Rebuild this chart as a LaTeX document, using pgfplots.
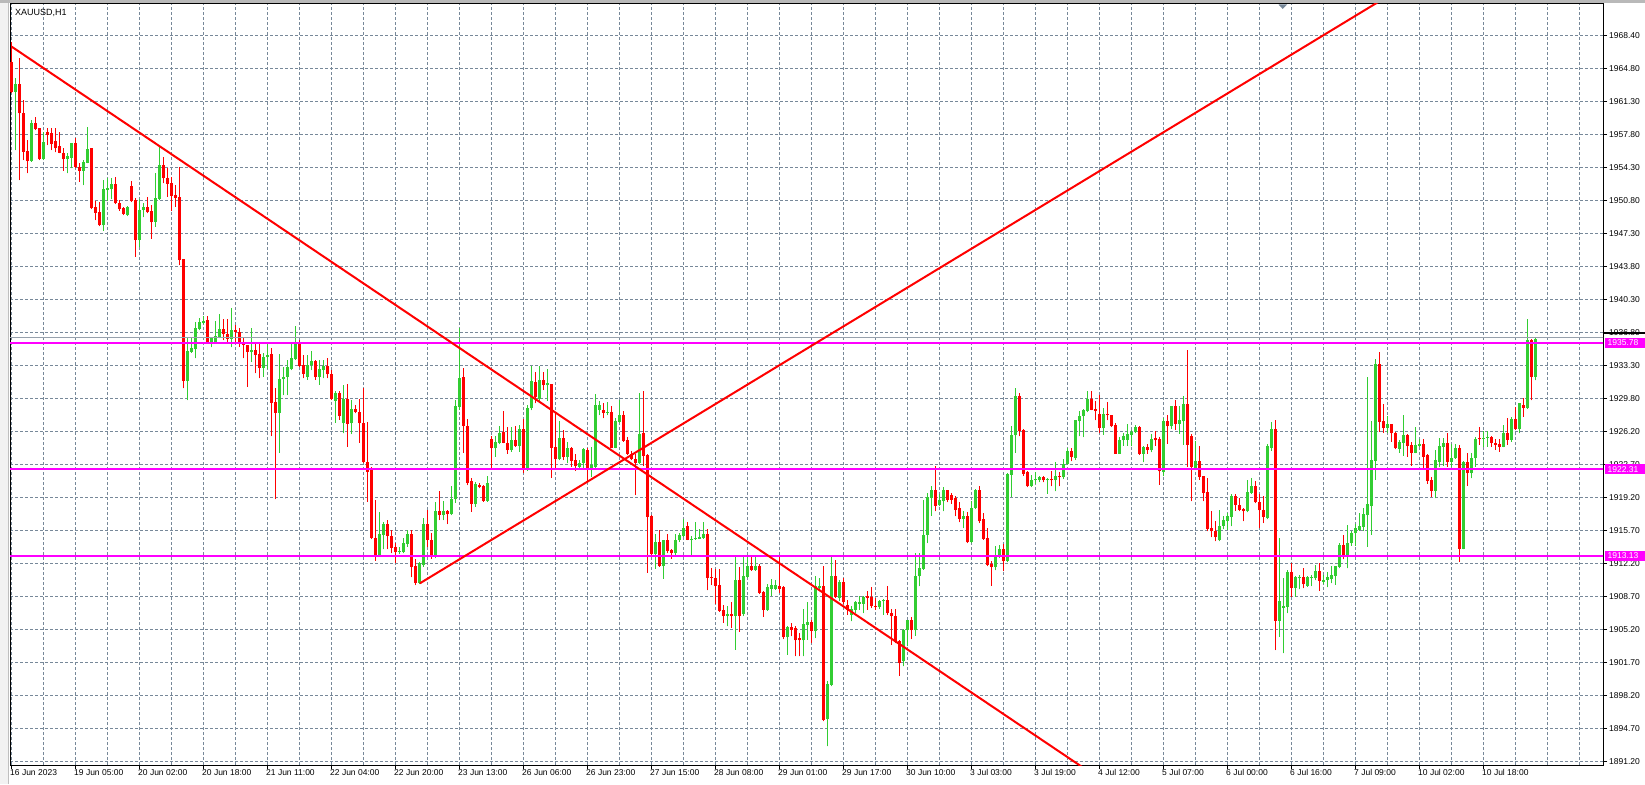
\documentclass[border=0pt]{standalone}
\usepackage{fontspec}
\setmainfont{Liberation Sans}
\usepackage{pgfplots}
\usepackage{pgfplotstable}
\pgfplotsset{compat=1.18}
\definecolor{cgreen}{RGB}{50,205,50}
\definecolor{cred}{RGB}{255,0,0}
\definecolor{cgrid}{RGB}{119,136,153}
\definecolor{cmag}{RGB}{255,0,255}
\definecolor{cbid}{RGB}{150,160,172}
\pgfplotstableread{
i o h l c
0 1965.67 1967.80 1962.30 1962.48
1 1962.48 1963.90 1956.27 1963.29
2 1963.29 1966.02 1953.08 1960.17
3 1960.17 1961.59 1955.21 1956.10
4 1956.17 1957.34 1953.79 1955.10
5 1955.10 1959.46 1955.03 1959.11
6 1959.11 1959.75 1958.40 1958.47
7 1958.58 1958.65 1955.21 1955.28
8 1955.28 1958.22 1955.21 1957.16
9 1958.15 1958.58 1956.80 1957.87
10 1958.05 1958.58 1956.27 1956.91
11 1957.23 1958.58 1956.02 1956.45
12 1956.70 1958.22 1955.92 1955.99
13 1955.92 1956.45 1954.07 1955.28
14 1955.28 1955.92 1953.79 1955.63
15 1955.46 1957.05 1954.32 1956.98
16 1956.98 1957.51 1954.32 1954.50
17 1954.50 1954.85 1952.90 1954.07
18 1954.07 1955.21 1952.55 1955.03
19 1954.92 1958.76 1954.85 1956.34
20 1956.49 1956.49 1949.96 1950.07
21 1950.17 1950.88 1948.83 1949.61
22 1949.68 1950.74 1948.19 1948.26
23 1948.26 1953.08 1947.69 1952.12
24 1952.02 1953.26 1950.85 1952.20
25 1952.12 1953.26 1951.02 1952.69
26 1952.66 1953.44 1950.53 1950.60
27 1950.60 1950.96 1949.82 1949.96
28 1950.10 1950.24 1949.36 1949.46
29 1949.36 1950.35 1949.25 1950.24
30 1952.44 1952.97 1950.74 1950.85
31 1950.96 1951.13 1944.92 1946.70
32 1946.70 1951.02 1945.99 1949.89
33 1949.89 1950.67 1949.11 1950.17
34 1950.21 1951.24 1949.54 1949.64
35 1949.78 1950.42 1946.84 1948.58
36 1948.65 1953.79 1948.12 1951.17
37 1951.06 1956.63 1950.96 1954.68
38 1954.68 1955.49 1952.73 1953.26
39 1953.26 1954.32 1951.31 1952.66
40 1952.73 1953.44 1949.82 1951.41
41 1951.49 1952.55 1950.24 1951.20
42 1951.27 1954.43 1944.04 1944.57
43 1944.64 1944.64 1930.92 1931.70
44 1931.70 1936.34 1929.68 1934.89
45 1934.82 1936.34 1934.71 1935.24
46 1935.10 1938.01 1934.11 1937.30
47 1937.23 1938.37 1937.12 1938.01
48 1937.83 1938.61 1937.76 1938.12
49 1938.19 1938.61 1935.71 1935.85
50 1935.85 1936.41 1935.28 1936.24
51 1935.81 1938.12 1935.71 1936.49
52 1936.34 1938.83 1936.24 1937.19
53 1937.19 1938.26 1936.06 1936.66
54 1936.66 1938.26 1935.88 1936.20
55 1936.20 1939.43 1935.28 1937.12
56 1937.12 1937.66 1935.81 1936.94
57 1936.94 1937.30 1935.35 1935.71
58 1935.71 1936.41 1934.11 1935.53
59 1935.53 1935.53 1931.10 1934.82
60 1934.75 1937.30 1933.75 1935.03
61 1935.00 1935.72 1932.53 1934.48
62 1934.58 1935.72 1932.00 1933.13
63 1933.13 1934.66 1932.17 1934.30
64 1934.23 1935.72 1933.00 1934.48
65 1934.58 1935.19 1925.86 1929.41
66 1929.48 1930.93 1919.12 1928.34
67 1928.34 1934.58 1924.09 1931.89
68 1931.89 1933.24 1930.22 1932.17
69 1932.17 1933.95 1930.22 1933.24
70 1932.95 1935.79 1932.88 1934.16
71 1934.02 1937.56 1933.95 1935.90
72 1935.90 1936.07 1933.24 1933.31
73 1933.38 1934.48 1932.00 1932.49
74 1932.17 1934.48 1931.82 1933.41
75 1933.41 1934.94 1932.88 1933.84
76 1933.84 1933.95 1931.82 1932.10
77 1932.10 1933.95 1931.29 1932.95
78 1932.88 1933.95 1932.00 1933.34
79 1933.27 1934.12 1932.00 1932.42
80 1932.46 1932.88 1929.69 1929.76
81 1929.62 1930.68 1927.28 1930.40
82 1930.40 1930.68 1927.57 1927.99
83 1927.21 1931.29 1926.15 1929.76
84 1929.76 1931.39 1924.73 1927.14
85 1927.21 1929.69 1926.07 1928.73
86 1928.73 1929.20 1928.27 1928.45
87 1928.45 1929.76 1925.15 1927.21
88 1927.21 1930.93 1923.03 1923.11
89 1923.11 1927.32 1918.88 1922.07
90 1922.24 1922.60 1914.87 1915.05
91 1915.05 1919.05 1912.60 1913.10
92 1913.10 1917.78 1913.02 1915.44
93 1915.33 1916.75 1913.81 1916.50
94 1916.50 1916.93 1913.81 1915.22
95 1915.22 1915.86 1913.38 1913.98
96 1914.09 1914.44 1912.32 1913.52
97 1913.52 1914.09 1913.31 1913.66
98 1913.52 1914.97 1913.38 1914.44
99 1914.37 1915.86 1914.09 1915.40
100 1915.40 1915.86 1910.83 1911.96
101 1912.03 1912.74 1910.01 1910.26
102 1910.26 1912.49 1910.12 1912.32
103 1912.14 1917.10 1911.96 1916.50
104 1916.50 1917.99 1914.09 1914.80
105 1914.80 1915.51 1912.81 1913.20
106 1913.20 1918.88 1912.85 1917.92
107 1917.85 1919.98 1916.93 1917.46
108 1917.46 1918.95 1916.93 1917.92
109 1917.92 1917.99 1916.50 1917.53
110 1917.53 1920.54 1917.46 1919.19
111 1919.12 1929.69 1918.77 1929.05
112 1928.98 1937.32 1928.63 1931.99
113 1932.10 1933.06 1924.09 1926.93
114 1926.93 1927.64 1920.65 1920.90
115 1921.08 1921.36 1917.81 1918.63
116 1918.63 1921.01 1918.34 1920.76
117 1920.65 1920.83 1920.30 1920.47
118 1920.54 1920.65 1918.88 1918.98
119 1918.95 1921.61 1918.88 1920.83
120 1925.51 1925.86 1922.42 1924.55
121 1924.55 1925.86 1923.66 1925.26
122 1925.15 1926.93 1925.01 1926.22
123 1926.29 1928.52 1925.08 1925.15
124 1925.14 1926.77 1924.00 1924.36
125 1924.36 1926.77 1924.18 1925.42
126 1925.49 1926.91 1924.71 1924.78
127 1924.78 1927.02 1924.18 1926.66
128 1926.66 1927.62 1921.88 1922.41
129 1922.41 1929.15 1922.16 1928.79
130 1928.79 1933.29 1928.61 1931.70
131 1931.59 1932.69 1929.32 1930.03
132 1929.75 1933.29 1929.50 1931.80
133 1931.80 1932.69 1930.74 1931.24
134 1931.24 1932.94 1929.61 1931.45
135 1931.34 1931.34 1921.45 1924.61
136 1924.71 1928.44 1922.30 1923.37
137 1923.37 1927.48 1923.30 1925.63
138 1925.63 1926.49 1923.30 1923.58
139 1923.58 1925.21 1922.94 1924.61
140 1924.61 1924.71 1922.59 1923.22
141 1923.30 1923.90 1922.16 1922.66
142 1922.59 1923.30 1922.41 1922.94
143 1922.94 1924.64 1922.41 1924.50
144 1924.36 1924.54 1920.99 1922.41
145 1922.51 1924.71 1921.52 1922.73
146 1922.59 1930.32 1922.51 1929.15
147 1928.61 1929.57 1928.08 1929.15
148 1928.68 1929.32 1927.73 1928.33
149 1928.33 1929.50 1928.08 1928.44
150 1928.44 1929.04 1924.54 1924.64
151 1924.64 1927.73 1924.54 1927.48
152 1927.37 1929.68 1927.27 1928.08
153 1928.08 1928.54 1925.24 1925.35
154 1925.49 1925.78 1923.83 1924.00
155 1924.00 1924.29 1923.30 1923.37
156 1923.44 1924.00 1919.57 1923.01
157 1923.01 1930.39 1922.87 1926.06
158 1926.13 1930.63 1922.66 1923.72
159 1923.83 1924.00 1911.31 1917.27
160 1917.34 1917.44 1913.08 1913.29
161 1913.29 1915.49 1911.73 1914.61
162 1914.61 1915.85 1911.95 1912.02
163 1912.02 1914.85 1910.67 1914.78
164 1914.78 1915.42 1913.37 1913.65
165 1913.72 1913.90 1912.83 1913.44
166 1913.37 1915.49 1913.19 1914.85
167 1914.78 1915.56 1914.61 1915.31
168 1915.21 1917.09 1915.14 1916.13
169 1916.27 1916.73 1914.78 1914.85
170 1914.85 1915.21 1913.19 1914.96
171 1914.92 1916.73 1914.85 1915.03
172 1914.96 1916.02 1914.92 1915.14
173 1915.07 1916.73 1914.96 1915.42
174 1915.42 1916.02 1909.46 1910.77
175 1910.88 1911.88 1910.00 1910.81
176 1910.81 1911.77 1908.05 1909.89
177 1910.00 1911.77 1907.16 1907.27
178 1907.34 1907.87 1905.99 1906.70
179 1906.70 1907.76 1905.63 1906.98
180 1906.98 1908.22 1905.49 1906.70
181 1906.70 1913.08 1903.15 1910.53
182 1910.53 1911.95 1905.03 1906.70
183 1906.91 1913.19 1906.70 1910.95
184 1910.88 1913.08 1910.81 1912.09
185 1912.09 1913.19 1911.52 1911.59
186 1911.59 1913.08 1911.52 1912.09
187 1912.09 1912.23 1909.04 1909.18
188 1909.29 1909.39 1906.63 1907.34
189 1907.41 1910.17 1907.27 1909.82
190 1909.63 1910.65 1908.88 1909.98
191 1909.63 1910.58 1909.52 1909.98
192 1909.95 1913.24 1909.16 1909.63
193 1909.77 1909.87 1904.27 1904.45
194 1904.45 1905.69 1902.61 1905.51
195 1905.51 1905.97 1904.55 1905.27
196 1905.44 1905.69 1902.43 1904.13
197 1904.38 1904.91 1902.43 1904.13
198 1904.13 1907.46 1902.43 1905.87
199 1905.80 1908.17 1904.20 1906.08
200 1906.08 1906.33 1903.85 1905.16
201 1905.09 1910.94 1904.38 1909.87
202 1909.70 1910.76 1909.34 1909.87
203 1909.95 1912.00 1895.51 1895.69
204 1895.76 1899.77 1892.85 1899.52
205 1899.41 1913.07 1899.24 1910.94
206 1910.94 1912.71 1908.63 1908.74
207 1908.63 1910.58 1908.28 1910.30
208 1910.30 1910.76 1908.03 1908.17
209 1907.92 1908.46 1906.86 1907.39
210 1906.86 1907.75 1906.15 1907.46
211 1907.39 1908.28 1907.04 1908.17
212 1908.03 1908.88 1907.39 1908.17
213 1908.03 1908.88 1907.04 1908.74
214 1908.81 1909.34 1907.39 1908.63
215 1908.74 1909.80 1907.57 1907.75
216 1907.82 1908.63 1907.39 1907.68
217 1907.68 1908.46 1907.46 1908.28
218 1908.28 1908.53 1906.86 1908.39
219 1908.39 1909.87 1906.86 1907.04
220 1907.04 1907.46 1903.67 1906.68
221 1906.75 1907.46 1903.85 1904.02
222 1904.09 1904.20 1900.37 1901.72
223 1901.90 1905.34 1901.36 1905.27
224 1905.19 1906.33 1903.49 1906.26
225 1906.26 1906.61 1904.27 1905.19
226 1905.19 1913.42 1904.63 1911.01
227 1910.94 1913.42 1909.87 1911.82
228 1911.72 1919.02 1911.65 1915.37
229 1915.37 1919.80 1914.48 1919.38
230 1919.27 1920.51 1917.39 1920.09
231 1920.09 1922.71 1917.85 1918.46
232 1918.56 1919.73 1918.39 1919.02
233 1918.92 1920.44 1917.85 1920.09
234 1920.09 1920.16 1918.81 1919.09
235 1919.63 1919.80 1918.67 1919.09
236 1919.27 1919.45 1917.32 1918.03
237 1918.21 1918.81 1916.68 1917.04
238 1917.04 1917.85 1916.08 1917.32
239 1917.32 1917.75 1914.48 1914.55
240 1914.55 1918.92 1914.48 1918.21
241 1918.21 1920.23 1918.10 1920.09
242 1920.09 1920.51 1916.61 1916.79
243 1917.04 1917.68 1914.84 1914.91
244 1915.02 1916.08 1912.00 1912.18
245 1912.29 1912.53 1909.95 1911.93
246 1911.93 1914.20 1911.58 1913.07
247 1913.00 1914.31 1912.89 1913.85
248 1913.85 1914.41 1911.47 1912.53
249 1912.53 1921.93 1912.43 1921.86
250 1921.75 1926.97 1919.38 1926.01
251 1925.94 1930.97 1924.06 1930.16
252 1930.16 1930.44 1925.83 1926.36
253 1926.53 1926.60 1921.64 1921.85
254 1922.03 1922.10 1920.43 1920.50
255 1920.50 1921.74 1920.43 1921.21
256 1921.14 1921.99 1920.79 1921.32
257 1921.21 1921.64 1920.93 1921.46
258 1921.46 1921.57 1920.93 1921.14
259 1921.14 1921.35 1919.72 1921.28
260 1921.21 1922.10 1920.50 1921.14
261 1921.14 1923.06 1919.97 1921.57
262 1921.57 1921.99 1920.50 1921.50
263 1921.50 1923.41 1921.28 1922.91
264 1922.91 1924.58 1922.81 1924.23
265 1924.23 1924.58 1923.16 1923.62
266 1923.52 1927.60 1923.34 1927.52
267 1927.42 1928.48 1925.82 1928.02
268 1927.95 1928.73 1925.75 1928.59
269 1928.48 1930.68 1928.38 1929.79
270 1929.79 1930.68 1928.59 1928.66
271 1928.77 1929.62 1927.52 1928.48
272 1928.23 1930.26 1926.18 1926.71
273 1926.67 1928.84 1926.00 1928.23
274 1928.23 1929.47 1927.52 1928.09
275 1928.13 1928.13 1926.82 1926.89
276 1927.06 1927.24 1923.98 1923.98
277 1923.98 1925.75 1923.98 1925.47
278 1925.40 1926.18 1924.83 1925.82
279 1925.47 1927.17 1924.83 1926.11
280 1926.00 1926.46 1924.76 1926.25
281 1926.25 1927.06 1926.18 1926.78
282 1926.78 1926.89 1923.87 1923.98
283 1923.98 1924.76 1923.06 1924.69
284 1924.69 1925.04 1923.98 1924.33
285 1924.33 1926.11 1924.12 1925.54
286 1925.61 1926.43 1924.83 1925.40
287 1925.54 1925.75 1920.68 1922.10
288 1921.99 1927.77 1921.57 1927.42
289 1927.42 1928.13 1925.04 1926.89
290 1926.89 1929.09 1926.60 1929.01
291 1929.01 1929.65 1926.53 1927.17
292 1927.17 1929.09 1926.11 1927.52
293 1927.42 1930.08 1924.94 1929.30
294 1929.30 1935.04 1922.56 1924.94
295 1925.89 1926.11 1918.91 1922.56
296 1922.35 1925.29 1922.28 1923.16
297 1923.16 1924.76 1921.21 1921.50
298 1921.57 1921.64 1918.91 1919.79
299 1919.87 1921.35 1915.72 1915.96
300 1916.11 1917.84 1915.11 1915.72
301 1915.72 1916.78 1914.65 1915.11
302 1914.76 1917.95 1914.65 1916.32
303 1916.32 1917.31 1915.96 1916.89
304 1916.78 1917.67 1915.89 1917.31
305 1917.24 1919.72 1916.25 1919.44
306 1919.51 1919.72 1917.91 1918.55
307 1918.55 1919.23 1917.84 1918.02
308 1918.13 1918.20 1916.78 1917.84
309 1917.84 1921.21 1917.74 1919.94
310 1919.79 1921.39 1919.72 1920.50
311 1920.50 1921.03 1918.73 1918.80
312 1918.87 1919.72 1916.04 1917.95
313 1918.02 1919.51 1916.60 1917.24
314 1917.11 1925.02 1917.00 1924.84
315 1924.63 1927.39 1924.27 1926.58
316 1926.58 1927.57 1903.10 1906.22
317 1906.22 1914.98 1904.52 1908.31
318 1907.61 1910.73 1902.75 1907.78
319 1907.71 1911.61 1907.00 1911.44
320 1911.44 1912.32 1908.78 1909.73
321 1909.73 1910.97 1908.78 1910.83
322 1910.73 1911.08 1909.56 1910.83
323 1910.90 1911.79 1909.66 1910.09
324 1909.91 1910.97 1909.84 1910.83
325 1910.73 1911.08 1909.91 1910.90
326 1910.73 1912.14 1910.55 1911.51
327 1911.51 1912.32 1909.41 1910.48
328 1910.37 1911.08 1910.12 1910.55
329 1910.55 1911.44 1909.77 1910.83
330 1910.62 1912.04 1910.19 1911.08
331 1910.97 1912.04 1910.02 1912.04
332 1911.97 1914.45 1911.79 1914.27
333 1914.27 1915.34 1912.75 1913.03
334 1913.03 1916.40 1911.79 1914.45
335 1914.45 1915.80 1914.17 1915.51
336 1915.51 1916.51 1914.17 1916.08
337 1915.87 1917.71 1915.80 1916.29
338 1916.22 1918.17 1915.80 1917.57
339 1917.46 1932.11 1914.09 1918.60
340 1918.42 1927.46 1915.34 1923.31
341 1923.24 1934.02 1921.19 1933.53
342 1933.53 1934.84 1926.33 1927.39
343 1927.50 1929.27 1926.22 1926.75
344 1926.75 1927.99 1926.22 1927.14
345 1927.14 1927.14 1925.27 1926.15
346 1926.22 1926.33 1924.45 1924.56
347 1924.52 1925.44 1924.10 1925.27
348 1925.16 1928.10 1923.74 1925.97
349 1925.97 1926.08 1923.67 1924.80
350 1924.91 1925.27 1922.71 1924.10
351 1924.10 1926.86 1924.02 1924.91
352 1924.84 1925.51 1924.73 1925.02
353 1925.02 1925.51 1922.43 1923.67
354 1923.85 1923.95 1920.76 1921.12
355 1921.19 1921.47 1919.41 1920.05
356 1920.05 1924.38 1919.24 1923.31
357 1923.14 1925.66 1922.53 1924.80
358 1924.73 1925.62 1922.71 1925.09
359 1925.09 1926.22 1922.61 1923.14
360 1923.14 1925.02 1922.53 1923.49
361 1923.49 1925.02 1923.42 1924.63
362 1924.63 1924.88 1912.50 1913.88
363 1913.88 1923.17 1913.81 1923.10
364 1923.10 1924.02 1920.55 1921.90
365 1921.90 1924.02 1921.36 1923.49
366 1923.49 1925.80 1922.61 1925.58
367 1925.58 1926.79 1924.91 1925.51
368 1925.55 1926.44 1924.73 1925.69
369 1925.69 1926.44 1924.73 1925.80
370 1925.80 1925.87 1924.73 1925.09
371 1925.09 1925.51 1924.38 1924.91
372 1925.02 1925.51 1924.20 1924.73
373 1924.73 1927.04 1924.66 1926.22
374 1926.22 1927.75 1924.91 1925.44
375 1925.44 1927.85 1925.27 1927.71
376 1927.71 1928.99 1926.51 1926.58
377 1926.58 1929.41 1926.15 1929.34
378 1929.21 1929.90 1927.93 1928.84
379 1928.84 1938.31 1928.75 1936.03
380 1936.03 1936.18 1929.64 1932.19
381 1932.19 1936.29 1931.77 1936.18
}\candles
\pgfplotsset{
  candle/.style n args={2}{only marks, no markers, mark size=0pt,
    mark options={draw=none, fill=none}, forget plot,
    error bars/.cd, y dir=plus, y explicit, error mark=none,
    error bar style={draw=#1, line width=#2, line cap=butt}},
}
\begin{document}
\begin{tikzpicture}
\path[use as bounding box] (0pt,0pt) rectangle (1645pt,784pt);
\fill[white] (0pt,0pt) rectangle (1645pt,784pt);
\fill[gray!10] (0pt,0pt) rectangle (8pt,784pt);
\draw[gray!50, line width=1pt] (8pt,0pt) -- (8pt,784pt);
\fill[gray!55] (0pt,781pt) rectangle (1645pt,784pt);
\begin{axis}[
  at={(10pt,19pt)}, anchor=south west,
  scale only axis, width=1593pt, height=761pt,
  xmin=-0.375, xmax=397.875, ymin=1890.88, ymax=1971.80,
  clip mode=individual,
  axis line style={black, line width=1pt},
  tick align=outside, major tick length=4pt, minor tick length=0pt,
  tick style={black, line width=1pt},
  xtick pos=bottom, ytick pos=right, yticklabel pos=right,
  xtick={0,16,...,368},
  minor xtick={8,24,40,56,72,88,104,120,136,152,168,184,200,216,232,248,264,280,296,312,328,344,360,376,384,392},
  xticklabels={16 Jun 2023,19 Jun 05:00,20 Jun 02:00,20 Jun 18:00,21 Jun 11:00,22 Jun 04:00,22 Jun 20:00,23 Jun 13:00,26 Jun 06:00,26 Jun 23:00,27 Jun 15:00,28 Jun 08:00,29 Jun 01:00,29 Jun 17:00,30 Jun 10:00,3 Jul 03:00,3 Jul 19:00,4 Jul 12:00,5 Jul 07:00,6 Jul 00:00,6 Jul 16:00,7 Jul 09:00,10 Jul 02:00,10 Jul 18:00},
  ytick={1968.400,1964.891,1961.382,1957.873,1954.364,1950.855,1947.345,1943.836,1940.327,1936.818,1933.309,1929.800,1926.291,1922.782,1919.273,1915.764,1912.255,1908.745,1905.236,1901.727,1898.218,1894.709,1891.200},
  yticklabels={1968.40,1964.80,1961.30,1957.80,1954.30,1950.80,1947.30,1943.80,1940.30,1936.80,1933.30,1929.80,1926.20,1922.70,1919.20,1915.70,1912.20,1908.70,1905.20,1901.70,1898.20,1894.70,1891.20},
  grid=both,
  major grid style={cgrid, line width=1pt, dash pattern=on 3pt off 2pt},
  minor grid style={cgrid, line width=1pt, dash pattern=on 3pt off 2pt},
  xticklabel style={anchor=north west, inner sep=0pt, xshift=-1.5pt, font=\fontsize{8.5}{10}\selectfont},
  yticklabel style={anchor=west, inner sep=0pt, xshift=2pt, font=\fontsize{8.5}{10}\selectfont},
]
% wicks
\addplot[candle={cgreen}{1pt}]
  table[x=i, y expr={\thisrow{c}>=\thisrow{o} ? \thisrow{l} : nan},
        y error expr={\thisrow{h}-\thisrow{l}}] {\candles};
\addplot[candle={cred}{1pt}]
  table[x=i, y expr={\thisrow{c}<\thisrow{o} ? \thisrow{l} : nan},
        y error expr={\thisrow{h}-\thisrow{l}}] {\candles};
% bodies
\addplot[candle={cgreen}{3pt}]
  table[x=i, y expr={\thisrow{c}>=\thisrow{o} ? \thisrow{o} : nan},
        y error expr={max(\thisrow{c}-\thisrow{o},0.1)}] {\candles};
\addplot[candle={cred}{3pt}]
  table[x=i, y expr={\thisrow{c}<\thisrow{o} ? \thisrow{c} : nan},
        y error expr={max(\thisrow{o}-\thisrow{c},0.1)}] {\candles};
% bid line
\addplot[cbid, line width=1pt, forget plot] coordinates {(-1,1936.32) (400,1936.32)};
% horizontal levels
\addplot[cmag, line width=2pt, forget plot] coordinates {(-1,1935.78) (400,1935.78)};
\addplot[cmag, line width=2pt, forget plot] coordinates {(-1,1922.31) (400,1922.31)};
\addplot[cmag, line width=2pt, forget plot] coordinates {(-1,1913.13) (400,1913.13)};
% trend lines
\addplot[cred, line width=2pt, forget plot] coordinates {(0.05,1967.26) (270,1890.00)};
\addplot[cred, line width=2pt, forget plot] coordinates {(102.1,1910.20) (345,1972.87)};
% price labels of levels
\draw[black, line width=2pt] (axis cs:397.875,1936.79) -- ++(42pt,0pt);
\fill[cmag] ([yshift=-5pt]axis cs:398.25,1935.78) rectangle ([yshift=5pt,xshift=41pt]axis cs:398.25,1935.78);
\node[anchor=west, inner sep=0pt, text=white, font=\fontsize{8.5}{10}\selectfont] at ([xshift=3pt]axis cs:398.25,1935.78) {1935.78};
\fill[cmag] ([yshift=-5pt]axis cs:398.25,1922.31) rectangle ([yshift=5pt,xshift=41pt]axis cs:398.25,1922.31);
\node[anchor=west, inner sep=0pt, text=white, font=\fontsize{8.5}{10}\selectfont] at ([xshift=3pt]axis cs:398.25,1922.31) {1922.31};
\fill[cmag] ([yshift=-5pt]axis cs:398.25,1913.13) rectangle ([yshift=5pt,xshift=41pt]axis cs:398.25,1913.13);
\node[anchor=west, inner sep=0pt, text=white, font=\fontsize{8.5}{10}\selectfont] at ([xshift=3pt]axis cs:398.25,1913.13) {1913.13};
\end{axis}
\fill[cgrid] (1278.5pt,779.5pt) -- (1287pt,779.5pt) -- (1282.7pt,775pt) -- cycle;
\node[anchor=north west, inner sep=0pt, font=\fontsize{9}{10}\selectfont] at (15pt,775pt) {XAUUSD,H1};
\end{tikzpicture}
\end{document}
